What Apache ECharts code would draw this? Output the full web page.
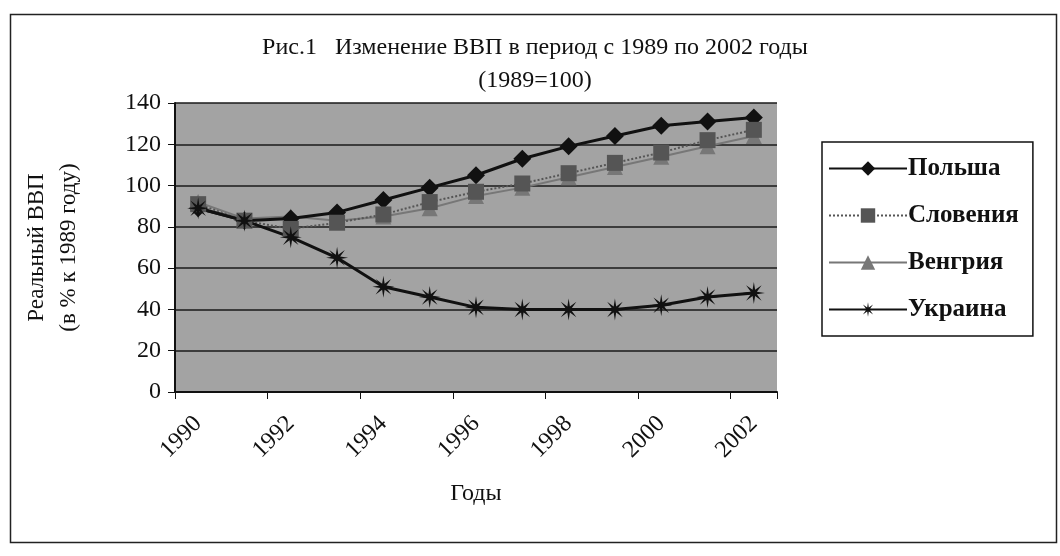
<!DOCTYPE html>
<html>
<head>
<meta charset="utf-8">
<script src="https://cdn.jsdelivr.net/npm/echarts@6/dist/echarts.min.js"></script>
<style>
  html, body { margin: 0; padding: 0; background: #fff; }
  #main { width: 1060px; height: 556px; }
</style>
</head>
<body>
<div id="main"></div>
<script>
// годы
var years = ['1990','1991','1992','1993','1994','1995','1996','1997','1998','1999','2000','2001','2002'];
// ВВП, 1989=100
var poland   = [89, 83, 84, 87, 93, 99, 105, 113, 119, 124, 129, 131, 133];
var slovenia = [91, 83, 79, 82, 86, 92, 97, 101, 106, 111, 116, 122, 127];
var hungary  = [92, 84, 85, 83, 85, 89, 95, 99, 104, 109, 114, 119, 124];
var ukraine  = [89, 83, 75, 65, 51, 46, 41, 40, 40, 40, 42, 46, 48];
var yTicks = [0, 20, 40, 60, 80, 100, 120, 140];

var serif = '"Liberation Serif", "DejaVu Serif", serif';
var star = 'path://M0,-10 L1.15,-2.77 L7.07,-7.07 L2.77,-1.15 L10,0 L2.77,1.15 L7.07,7.07 L1.15,2.77 L0,10 L-1.15,2.77 L-7.07,7.07 L-2.77,1.15 L-10,0 L-2.77,-1.15 L-7.07,-7.07 L-1.15,-2.77 Z';

var chart = echarts.init(document.getElementById('main'));
chart.setOption({
  backgroundColor: '#fff',
  animation: false,
  title: {
    text: 'Рис.1   Изменение ВВП в период с 1989 по 2002 годы\n(1989=100)',
    left: 530, top: 26, textAlign: 'center',
    textStyle: { fontFamily: serif, fontSize: 24, fontWeight: 'normal', color: '#111', lineHeight: 33 }
  },
  graphic: [{
    type: 'rect', left: 8, top: 12, silent: true,
    shape: { width: 1046, height: 528 },
    style: { fill: null, stroke: '#222', lineWidth: 1.5 }
  }],
  legend: {
    orient: 'vertical', left: 822, top: 142,
    padding: [14, 14, 14, 6],
    borderColor: '#111', borderWidth: 1.5,
    itemGap: 22, itemWidth: 78, itemHeight: 18,
    textStyle: { fontFamily: serif, fontSize: 25, fontWeight: 'bold', color: '#111', padding: [0, 0, 0, -4] },
    data: ['Польша', 'Словения', 'Венгрия', 'Украина']
  },
  grid: { left: 175, right: 283, top: 103, bottom: 164, show: true, backgroundColor: '#a3a3a3', borderWidth: 0 },
  xAxis: {
    type: 'category', data: years, boundaryGap: true,
    name: 'Годы', nameLocation: 'middle', nameGap: 90,
    nameTextStyle: { fontFamily: serif, fontSize: 24, color: '#111' },
    axisLine: { lineStyle: { color: '#111', width: 2 } },
    axisTick: { show: true, length: 7, lineStyle: { color: '#111' } },
    axisLabel: { interval: 1, rotate: 45, margin: 28, fontFamily: serif, fontSize: 24, color: '#111' },
    splitLine: { show: false }
  },
  yAxis: {
    type: 'value', min: yTicks[0], max: yTicks[yTicks.length - 1], interval: 20,
    name: 'Реальный ВВП\n(в % к 1989 году)', nameLocation: 'middle', nameGap: 90, nameRotate: 90,
    nameTextStyle: { fontFamily: serif, fontSize: 23, color: '#111', lineHeight: 32 },
    axisLine: { show: true, lineStyle: { color: '#111', width: 2 } },
    axisTick: { show: true, length: 7, lineStyle: { color: '#111' } },
    axisLabel: { margin: 14, fontFamily: serif, fontSize: 24, color: '#111' },
    splitLine: { show: true, lineStyle: { color: '#1a1a1a', width: 1.5 } }
  },
  series: [
    { name: 'Польша', type: 'line', data: poland,
      symbol: 'diamond', symbolSize: 18,
      lineStyle: { color: '#111', width: 3 }, itemStyle: { color: '#111' } },
    { name: 'Словения', type: 'line', data: slovenia,
      symbol: 'rect', symbolSize: 16, z: 3,
      lineStyle: { color: '#555', width: 2, type: 'dotted' }, itemStyle: { color: '#555' } },
    { name: 'Венгрия', type: 'line', data: hungary,
      symbol: 'triangle', symbolSize: 16, z: 2,
      lineStyle: { color: '#777', width: 2 }, itemStyle: { color: '#777' } },
    { name: 'Украина', type: 'line', data: ukraine,
      symbol: star, symbolSize: 22,
      lineStyle: { color: '#111', width: 3 }, itemStyle: { color: '#111' } }
  ]
});
</script>
</body>
</html>
